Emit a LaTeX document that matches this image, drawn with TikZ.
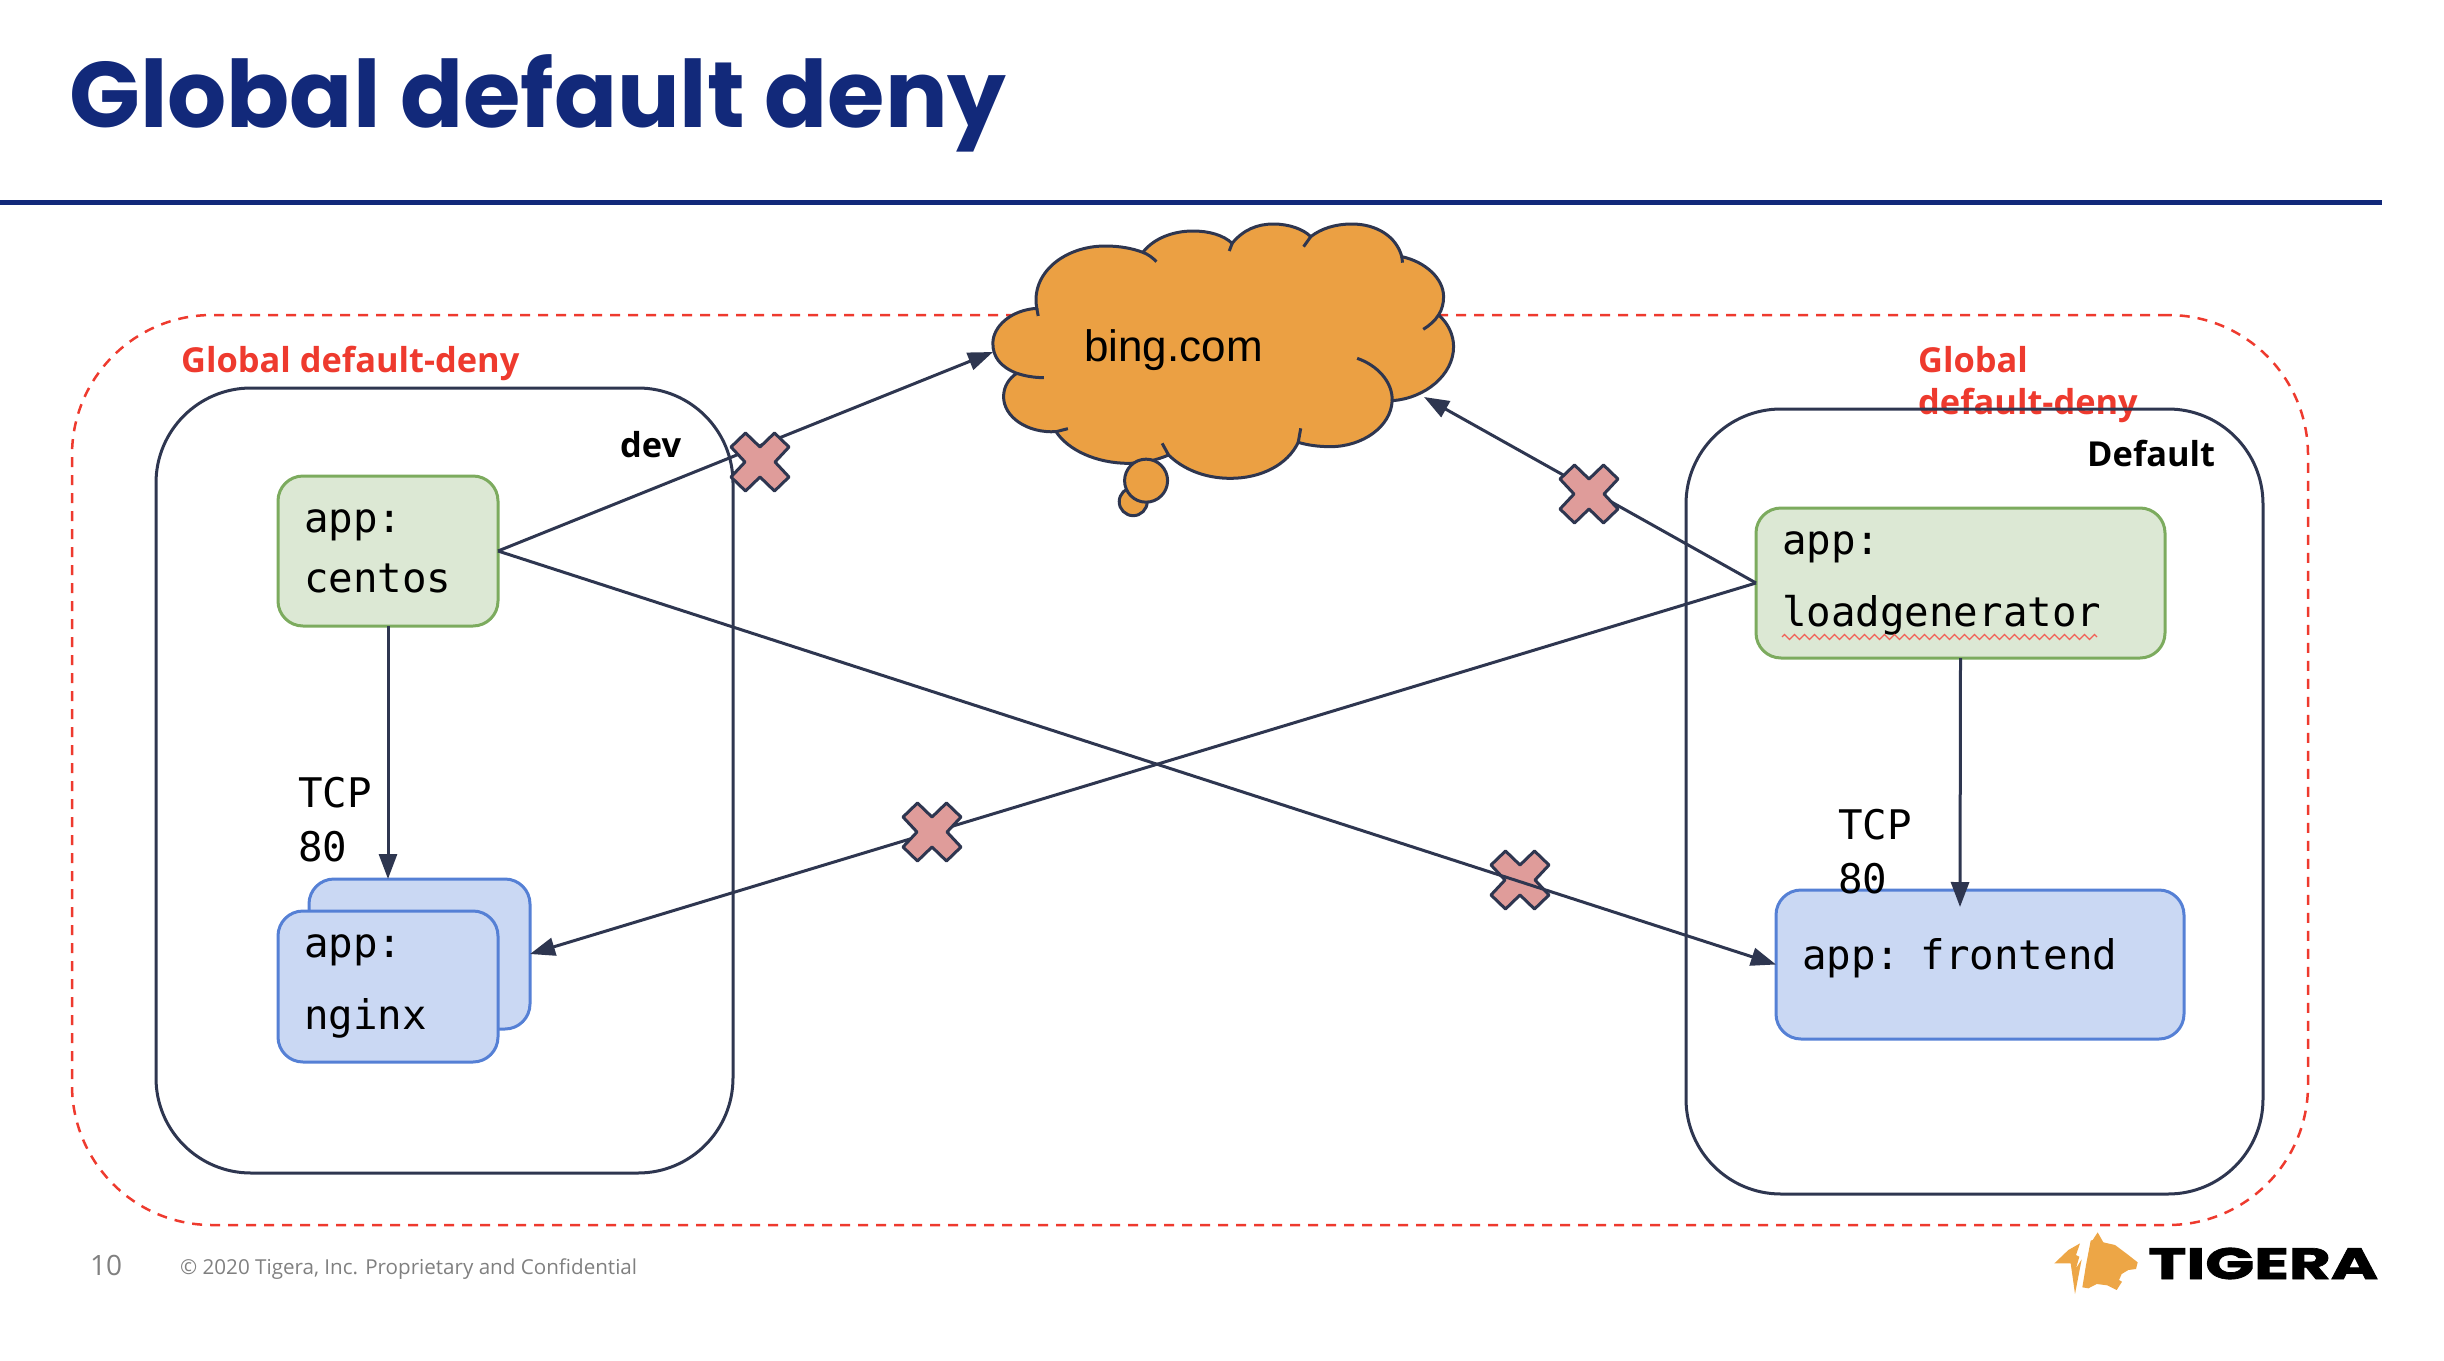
\documentclass[tikz,border=0pt]{standalone}
\usepackage{fontspec}
\setmainfont{Open Sans}
\setmonofont{DejaVu Sans Mono}
\newfontfamily\titlefont{Poppins}
\newfontfamily\brandfont[BoldFeatures={FakeBold=1.6}]{Poppins}
\newfontfamily\cloudfont{Liberation Sans}
\usetikzlibrary{arrows.meta,decorations.pathmorphing}

\definecolor{navy}{HTML}{12297A}
\definecolor{darkline}{HTML}{2E3650}
\definecolor{denyred}{HTML}{EE3A2E}
\definecolor{greenfill}{HTML}{DCE8D4}
\definecolor{greenline}{HTML}{7CAB5E}
\definecolor{bluefill}{HTML}{CAD8F3}
\definecolor{blueline}{HTML}{5580D5}
\definecolor{cloudfill}{HTML}{EBA043}
\definecolor{crossfill}{HTML}{DF9C9A}
\definecolor{tigerfill}{HTML}{EDA646}

\tikzset{
  appbox/.style={rounded corners=25pt, line width=3pt, anchor=north west, outer sep=0pt,
    inner xsep=26pt, inner ysep=0pt, align=left,
    font=\fontsize{40.8}{54}\selectfont\ttfamily},
  greenbox/.style={appbox, draw=greenline, fill=greenfill},
  bluebox/.style={appbox, draw=blueline, fill=bluefill},
  textdrop/.style={execute at begin node={\vspace*{#1}}},
  groupbox/.style={draw=darkline, line width=3pt, rounded corners=95pt, anchor=north west,
    outer sep=0pt, inner sep=0pt},
  link/.style={draw=darkline, line width=3pt, -{Triangle[length=25pt,width=18pt]}},
  portlabel/.style={anchor=west, inner sep=0pt, align=left,
    font=\fontsize{40.8}{54}\selectfont\ttfamily},
  nslabel/.style={anchor=base west, inner sep=0pt, font=\fontsize{34.4}{42}\selectfont\bfseries},
  denylabel/.style={nslabel, text=denyred, align=left},
  footer/.style={anchor=base west, inner sep=0pt, text=gray},
  denied/.pic={
    \draw[darkline, fill=crossfill, line width=3pt, line join=round]
      (0,-15) -- (14.5,-29) -- (29,-15) -- (15,0) -- (29,15) -- (14.5,29) -- (0,15)
      -- (-14.5,29) -- (-29,15) -- (-15,0) -- (-29,-15) -- (-14.5,-29) -- cycle;
  }
}

\begin{document}
\begin{tikzpicture}[x=1pt,y=-1pt]
\useasboundingbox (0,0) rectangle (2444,1360);

% heading
\node[anchor=base west, inner sep=0pt, text=navy, font=\fontsize{93}{100}\selectfont\titlefont\bfseries]
  (title) at (69,127) {Global default deny};
\fill[navy] (0,199.5) rectangle (2382,204.5);

% dashed frame
\node[draw=denyred, dashed, dash pattern=on 10pt off 8pt, line width=2.5pt, rounded corners=140pt,
  anchor=north west, minimum width=2236pt, minimum height=910pt, inner sep=0pt, outer sep=0pt]
  (frame) at (72,315) {};

% labels under the namespace outlines
\node[denylabel] (denyleft) at (181,372) {Global default-deny};
\node[denylabel] (denyright) at (1918,414) {Global\\default-deny};

% namespaces
\node[groupbox, minimum width=577pt, minimum height=785pt] (dev) at (156,388) {};
\node[groupbox, minimum width=577pt, minimum height=785pt] (default) at (1686,409) {};
\node[nslabel] (devlabel) at (620,457) {dev};
\node[nslabel] (defaultlabel) at (2087,466) {Default};

% cloud
\begin{scope}[shift={(950,190)},x=0.35714pt,y=-0.33333pt]
\draw[darkline, fill=cloudfill, line width=3pt] (187,550)
  .. controls (140,530) and (120,500) .. (120,460)
  .. controls (120,410) and (170,360) .. (243,355)
  .. controls (225,250) and (320,168) .. (435,168)
  .. controls (475,168) and (510,175) .. (540,187)
  .. controls (570,145) and (625,123) .. (680,123)
  .. controls (725,123) and (765,135) .. (790,160)
  .. controls (820,120) and (860,102) .. (905,102)
  .. controls (950,102) and (990,118) .. (1010,140)
  .. controls (1040,115) and (1080,102) .. (1125,102)
  .. controls (1195,102) and (1250,140) .. (1265,200)
  .. controls (1330,215) and (1382,265) .. (1382,320)
  .. controls (1382,340) and (1378,358) .. (1368,375)
  .. controls (1395,400) and (1410,435) .. (1410,470)
  .. controls (1410,555) and (1330,625) .. (1238,632)
  .. controls (1235,710) and (1155,770) .. (1065,770)
  .. controls (1030,770) and (1000,765) .. (975,757)
  .. controls (945,825) and (870,865) .. (785,865)
  .. controls (710,865) and (650,835) .. (612,795)
  .. controls (580,810) and (540,820) .. (500,820)
  .. controls (410,820) and (330,780) .. (297,725)
  .. controls (215,730) and (150,680) .. (150,620)
  .. controls (150,590) and (165,565) .. (187,550) -- cycle;
\draw[darkline, line width=3pt]
  (187,550) .. controls (210,558) and (235,563) .. (263,563)
  (243,355) -- (247,378)
  (540,187) .. controls (555,193) and (568,204) .. (578,215)
  (790,160) -- (782,183)
  (1010,140) -- (990,170)
  (1265,200) -- (1267,218)
  (1368,375) .. controls (1358,392) and (1342,407) .. (1325,418)
  (1238,632) .. controls (1240,575) and (1195,525) .. (1140,505)
  (975,757) -- (982,715)
  (612,795) -- (594,760)
  (297,725) -- (330,716);
\draw[darkline, fill=cloudfill, line width=3pt] (513,935) circle (14pt);
\draw[darkline, fill=cloudfill, line width=3pt] (549,872) circle (21.5pt);
\end{scope}
\node[anchor=base west, inner sep=0pt, font=\fontsize{44}{50}\selectfont\cloudfont] (bing) at (1084,361) {bing.com};
\coordinate (cloudwest) at (993,352);
\coordinate (cloudeast) at (1424,397);

% workloads
\node[bluebox, minimum width=221pt, minimum height=150pt] (nginxback) at (309,879) {};
\node[bluebox, text width=168pt, minimum height=151pt, textdrop=18pt] (nginx) at (278,911) {app:\\nginx};
\node[greenbox, text width=168pt, minimum height=150pt, textdrop=6pt] (centos) at (278,476) {app:\\centos};
\node[greenbox, text width=357pt, minimum height=150pt, textdrop=18pt] (loadgen) at (1756,508) {app:\\loadgenerator};
\node[bluebox, text width=356pt, minimum height=149pt, textdrop=12pt] (frontend) at (1776,890) {app: frontend};

\coordinate (wavystart) at (1782,637);
\coordinate (wavyend) at (2097,637);
\draw[denyred!80, line width=1.2pt, decorate, decoration={zigzag, segment length=10pt, amplitude=2.5pt}]
  (wavystart) -- (wavyend);

\node[portlabel] (portleft) at (298,820) {TCP\\80};
\node[portlabel] (portright) at (1838,852) {TCP\\80};

% crossed links
\pic at (1520,880) {denied};
\coordinate (frontendtop) at (1960,907);
\draw[link] (centos.south) -- (centos.south |- nginxback.north);
\draw[link] (loadgen.south) -- (frontendtop);
\draw[link] (centos.east) -- (cloudwest);
\draw[link] (centos.east) -- (frontend.west);
\draw[link] (loadgen.west) -- (cloudeast);
\draw[link] (loadgen.west) -- (nginxback.east);
\pic at (760,462) {denied};
\pic at (1589,494) {denied};
\pic at (932,832) {denied};

% footer
\node[footer, font=\fontsize{28}{32}\selectfont] (pagenum) at (90,1275) {10};
\node[footer, font=\fontsize{20.6}{26}\selectfont] (legal) at (180,1274) {© 2020 Tigera, Inc. Proprietary and Confidential};

% logo
\begin{scope}[shift={(2000,1200)},x=0.33333pt,y=-0.33333pt]
\fill[tigerfill] (293,97) -- (310,127) -- (345,135) -- (385,165) -- (413,187) -- (408,207)
  -- (385,210) -- (365,222) -- (357,240) -- (366,245) -- (350,270) -- (322,256) -- (290,252)
  -- (265,265) -- (247,262) -- (258,195) -- (272,122) -- (278,120) -- cycle;
\fill[tigerfill] (163,190) -- (205,150) -- (240,130) -- (228,165) -- (238,170) -- (228,205)
  -- (245,178) -- (225,282) -- (212,190) -- cycle;
\end{scope}
\node[anchor=base west, inner sep=0pt, xscale=1.46, font=\fontsize{44}{50}\selectfont\brandfont\bfseries]
  (brand) at (2148,1279) {TIGERA};
\end{tikzpicture}
\end{document}
